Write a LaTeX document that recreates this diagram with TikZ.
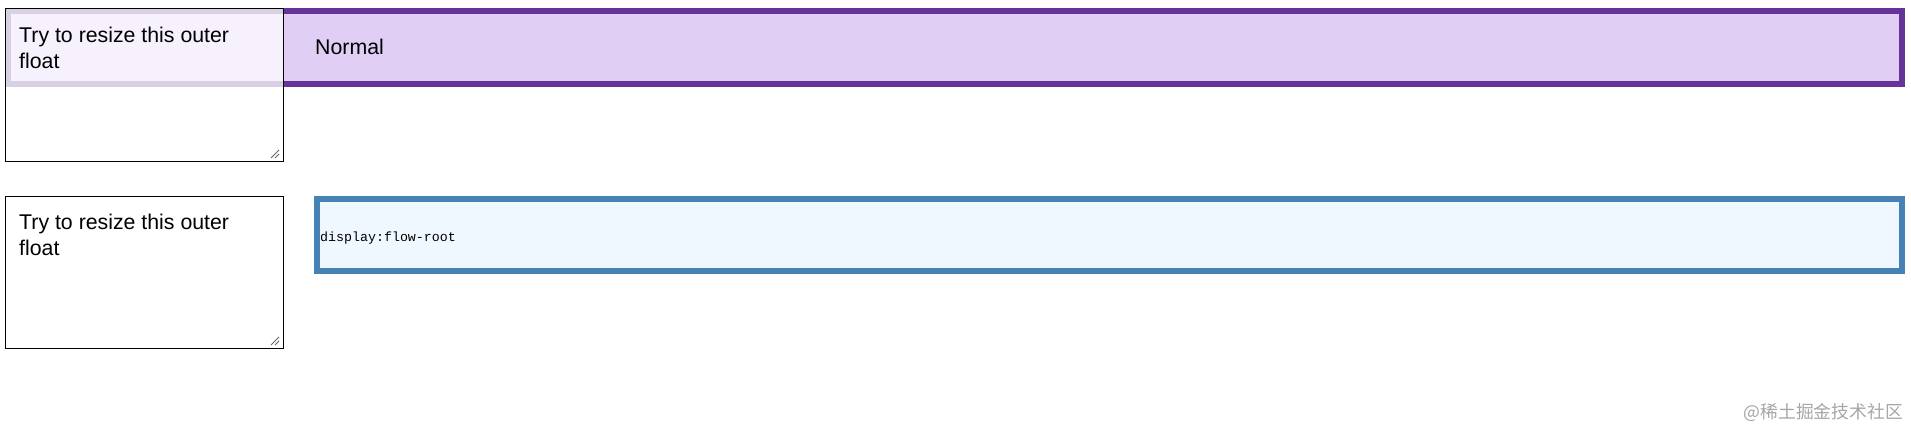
\documentclass[tikz,border=0pt]{standalone}
\usepackage{fontspec}
\setmainfont{Liberation Sans}
\newfontfamily\monofnt{Liberation Mono}
\newfontfamily\cjk{Noto Sans CJK SC}
\definecolor{rpurple}{HTML}{663399}
\definecolor{lpurple}{HTML}{E0CEF5}
\definecolor{sblue}{HTML}{4682B4}
\definecolor{ablue}{HTML}{F0F8FF}
\definecolor{tband}{HTML}{D8D0E3}
\definecolor{tinner}{HTML}{F6F1FD}
\tikzset{
  textareabox/.style={draw=black, line width=0.9pt},
  tatext/.style={anchor=base west, inner sep=0pt, font=\fontsize{21.3}{26}\selectfont},
  handle/.style={draw=black!60, line width=0.9pt},
}
\begin{document}
\begin{tikzpicture}[x=1pt,y=-1pt]
\useasboundingbox (0,0) rectangle (1911,430);
\fill[white] (0,0) rectangle (1911,430);
% purple normal box
\path[fill=lpurple, draw=rpurple, line width=5.7pt] (8,10.9) rectangle (1902.1,84.1);
\node (normal) [tatext] at (315,55) {Normal};
% top textarea
\fill[white] (5,8) rectangle (283,161);
\fill[tband] (5,8.5) rectangle (283,87);
\fill[tinner] (11,14) rectangle (283,81);
\draw[textareabox] (5,8) rectangle (283,161);
\node (t1a) [tatext] at (19,43) {Try to resize this outer};
\node (t1b) [tatext] at (19,68.5) {float};
\draw[handle] (271,158) -- (279,150);
\draw[handle] (275,158) -- (279,154);
% blue flow-root box
\path[fill=ablue, draw=sblue, line width=5.7pt] (316.8,198.8) rectangle (1902.1,271.2);
\node (flow) [anchor=base west, inner sep=0pt, font=\monofnt\fontsize{13.3}{16}\selectfont] at (320,242) {display:flow-root};
% bottom textarea
\fill[white] (5,196) rectangle (283,348);
\draw[textareabox] (5,196) rectangle (283,348);
\node (t2a) [tatext] at (19,230) {Try to resize this outer};
\node (t2b) [tatext] at (19,255.5) {float};
\draw[handle] (271,345) -- (279,337);
\draw[handle] (275,345) -- (279,341);
% watermark
\node (wm) [anchor=east, inner sep=0pt, text=black!35, font=\cjk\fontsize{17.8}{20}\selectfont] at (1903,412) {@稀土掘金技术社区};
\end{tikzpicture}
\end{document}
